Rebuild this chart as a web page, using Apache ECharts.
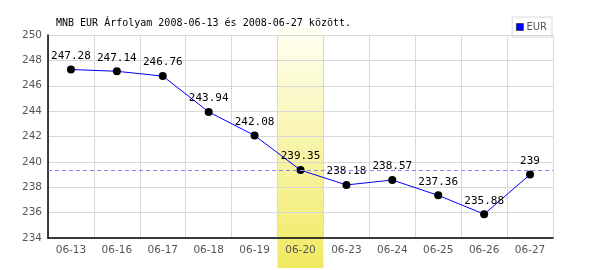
<!DOCTYPE html>
<html><head><meta charset="utf-8">
<script src="https://cdn.jsdelivr.net/npm/echarts@6/dist/echarts.min.js"></script>
<style>html,body{margin:0;padding:0;background:#fff}#c{width:600px;height:270px}</style>
</head><body><div id="c"></div>
<script>
var categories = ['06-13','06-16','06-17','06-18','06-19','06-20','06-23','06-24','06-25','06-26','06-27'];
var eurValues = [247.28, 247.14, 246.76, 243.94, 242.08, 239.35, 238.18, 238.57, 237.36, 235.88, 239];
var highlightCategory = '06-20';
var referenceValue = 239.35;
var yTicks = [234, 236, 238, 240, 242, 244, 246, 248, 250];

var chart = echarts.init(document.getElementById('c'), null, {renderer: 'canvas'});
var gridLeft = 48, gridTop = 35, gridRight = 47, gridBottom = 32;
chart.setOption({
  animation: false,
  backgroundColor: '#fff',
  title: {
    text: 'MNB EUR Árfolyam 2008-06-13 és 2008-06-27 között.',
    left: 51, top: 13,
    textStyle: {fontFamily: 'DejaVu Sans Mono', fontSize: 10, fontWeight: 'normal', color: '#000'}
  },
  legend: {
    right: 48, top: 17,
    data: [{name: 'EUR', itemStyle: {color: '#0000ff', borderColor: '#000', borderWidth: 0.5}}],
    itemWidth: 7, itemHeight: 7, itemGap: 4,
    icon: 'rect',
    borderColor: '#d8d8d8', borderWidth: 1, borderRadius: 0,
    padding: [5, 5, 5, 4],
    textStyle: {fontFamily: 'DejaVu Sans', fontSize: 10, color: '#555', padding: [0,0,0,-2]}
  },
  grid: {left: gridLeft, right: gridRight, top: gridTop, bottom: gridBottom, containLabel: false},
  xAxis: {
    type: 'category', data: categories, boundaryGap: true,
    axisLine: {lineStyle: {color: '#000', width: 1.5}},
    axisTick: {show: false},
    axisLabel: {fontFamily: 'DejaVu Sans', fontSize: 10.5, color: '#555', margin: 7},
    splitLine: {show: true, interval: 0, lineStyle: {color: '#d8d8d8', width: 1}}
  },
  yAxis: {
    type: 'value', min: 234, max: 250, interval: 2,
    axisLine: {show: true, lineStyle: {color: '#000', width: 1.5}},
    axisTick: {show: false},
    axisLabel: {fontFamily: 'DejaVu Sans', fontSize: 10.5, color: '#555', margin: 6,
      formatter: function (v) { return yTicks.indexOf(v) >= 0 ? String(v) : ''; }},
    splitLine: {show: true, lineStyle: {color: '#d8d8d8', width: 1}}
  },
  series: [{
    name: 'EUR', type: 'line', data: eurValues,
    color: '#0000ff',
    lineStyle: {color: '#0000ff', width: 1},
    symbol: 'circle', symbolSize: 8,
    itemStyle: {color: '#000'},
    label: {show: true, position: 'top', distance: 4, fontFamily: 'DejaVu Sans Mono', fontSize: 11, color: '#000',
      formatter: function (p) { return String(p.value); }},
    markLine: {
      silent: true, symbol: 'none', label: {show: false},
      lineStyle: {color: '#8888ee', type: [4, 3], width: 1},
      data: [{yAxis: referenceValue}]
    },
    z: 3
  }]
});

// highlight band (computed through the category scale)
var cx = chart.convertToPixel({xAxisIndex: 0}, highlightCategory);
var bandW = (600 - gridLeft - gridRight) / categories.length;
chart.setOption({
  graphic: [{
    type: 'rect', z: -10, silent: true,
    shape: {x: cx - bandW / 2, y: 27, width: bandW, height: 270 - 27 - 2},
    style: {fill: new echarts.graphic.LinearGradient(0, 0, 0, 1, [
      {offset: 0, color: '#fffff4'},
      {offset: 1, color: '#f0ea60'}
    ])}
  }]
});
</script></body></html>
